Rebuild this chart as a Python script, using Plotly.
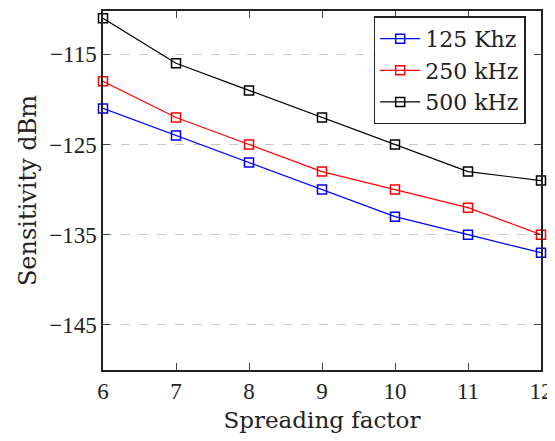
import plotly.graph_objects as go

spreading_factor = [6, 7, 8, 9, 10, 11, 12]
sens_125 = [-121, -124, -127, -130, -133, -135, -137]
sens_250 = [-118, -122, -125, -128, -130, -132, -135]
sens_500 = [-111, -116, -119, -122, -125, -128, -129]
y_ticks = [-115, -125, -135, -145]
y_labels = ["\u2212115", "\u2212125", "\u2212135", "\u2212145"]

series = [
    ("125 Khz", sens_125, "#0000ff"),
    ("250 kHz", sens_250, "#ff0000"),
    ("500 kHz", sens_500, "#000000"),
]

fig = go.Figure()
for name, vals, col in series:
    fig.add_trace(go.Scatter(
        x=spreading_factor, y=vals, name=name, mode="lines+markers",
        line=dict(color=col, width=1.2),
        marker=dict(symbol="square-open", size=9, color=col, line=dict(width=1.5)),
        cliponaxis=False,
    ))

# page body has an 8px margin, so keep the figure small enough to avoid scrollbars
title_font = "DejaVu Serif, Liberation Serif, serif"
tick_font = dict(family="Liberation Serif, serif", size=23, color="#222")
fig.update_layout(
    width=547, height=425,
    margin=dict(l=95, r=14, t=1, b=61),
    paper_bgcolor="white", plot_bgcolor="white",
    font=dict(family=title_font, size=21, color="#222"),
    showlegend=True,
    legend=dict(
        x=0.965, y=0.985, xanchor="right", yanchor="top",
        bordercolor="#222", borderwidth=1.5, bgcolor="white",
        font=dict(size=22), tracegroupgap=0, itemwidth=40,
    ),
    xaxis=dict(
        range=[6, 12], tickvals=spreading_factor, ticks="inside", ticklen=7,
        tickcolor="#444", showgrid=False, zeroline=False, mirror="ticks",
        showline=True, linecolor="#222", linewidth=1.5,
        title=dict(text="Spreading factor", font=dict(size=23), standoff=12),
        tickfont=tick_font,
    ),
    yaxis=dict(
        range=[-150, -110.2], tickvals=y_ticks, ticktext=y_labels, ticks="inside",
        ticklen=7, tickcolor="#444", showgrid=True, gridcolor="#c8c8c8",
        griddash="dash", gridwidth=1.2, zeroline=False, mirror="ticks",
        showline=True, linecolor="#222", linewidth=1.5,
        title=dict(text="Sensitivity dBm", font=dict(size=24), standoff=6),
        tickfont=tick_font,
    ),
)

fig.write_html("out.html")
